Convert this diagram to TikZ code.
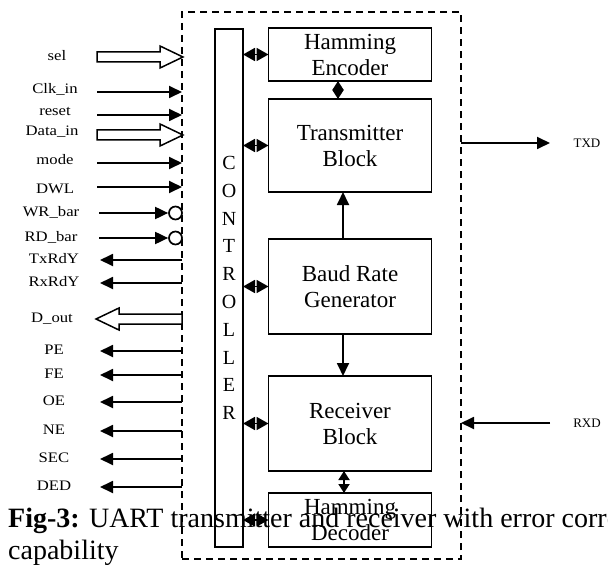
\documentclass[tikz,border=0pt]{standalone}
\usepackage{fontspec}
\setmainfont{Liberation Serif}
\newfontfamily\pinfont[FakeStretch=1.15]{Liberation Serif}
\usetikzlibrary{arrows.meta, positioning}

\begin{document}
\begin{tikzpicture}[
    x=1pt, y=-1pt,
    block/.style={rectangle, draw, line width=1.8pt, minimum width=163pt,
                  inner sep=0pt, outer sep=0pt, align=center,
                  font=\fontsize{23}{26}\selectfont},
    frame/.style={rectangle, draw, dash pattern=on 7pt off 5pt, line width=1.7pt,
                  minimum width=279pt, minimum height=547pt, inner sep=0pt, outer sep=0pt},
    pin/.style={font=\pinfont\fontsize{14.5}{16}\selectfont, text height=10pt,
                text depth=3pt, inner sep=0pt},
    sig/.style={-{Triangle[length=13pt, width=12pt]}, line width=1.8pt},
    link/.style={{Triangle[length=12pt, width=13pt]}-{Triangle[length=12pt, width=13pt]},
                 line width=1.8pt},
    shortlink/.style={{Triangle[length=9pt, width=11pt]}-{Triangle[length=9pt, width=11pt]},
                 line width=1.8pt},
    bubble/.style={circle, draw, line width=1.7pt, minimum size=13pt, inner sep=0pt, fill=white},
    fatarrow/.pic={\draw[line width=1.5pt, fill=white] (0,-5) -- (63,-5) -- (63,-11)
                   -- (86,0) -- (63,11) -- (63,5) -- (0,5) -- cycle;},
    caption/.style={anchor=base west, inner sep=0pt, font=\fontsize{28}{32}\selectfont},
]
\useasboundingbox (0,0) rectangle (608,567);
\clip (0,0) rectangle (608,567);

% frame and controller
\node[frame] (frame) at (321.5,285.5) {};
\node[rectangle, draw, line width=1.8pt, minimum width=28pt, minimum height=518pt,
      inner sep=0pt, outer sep=0pt, align=center, font=\fontsize{20}{27.8}\selectfont]
      (ctrl) at (229,288) {C\\O\\N\\T\\R\\O\\L\\L\\E\\R};

% block stack
\node[block, minimum height=53pt] (enc) at (350,54.5) {Hamming\\Encoder};
\node[block, minimum height=93pt, below=18pt of enc] (tx) {Transmitter\\Block};
\node[block, minimum height=95pt, below=47pt of tx] (baud) {Baud Rate\\Generator};
\node[block, minimum height=95pt, below=42pt of baud] (rx) {Receiver\\Block};
\node[block, minimum height=54pt, below=22pt of rx] (dec) {Hamming\\Decoder};

\foreach \b in {enc,tx,baud,rx,dec}
    \draw[link] (ctrl.east |- \b.west) -- (\b.west);

\draw[shortlink] ([xshift=-12pt]enc.south) -- ([xshift=-12pt]tx.north);
\draw[sig] ([xshift=-7pt]baud.north) -- ([xshift=-7pt]tx.south);
\draw[sig] ([xshift=-7pt]baud.south) -- ([xshift=-7pt]rx.north);
\draw[shortlink] ([xshift=-6pt]rx.south) -- ([xshift=-6pt]dec.north);

% serial lines
\coordinate (txd) at (550,143);
\coordinate (rxd) at (550,423);
\draw[sig] (txd -| frame.east) -- (txd);
\draw[sig] (rxd) -- (rxd -| frame.east);
\node[font=\fontsize{13}{15}\selectfont] (ltxd) at (587,143) {TXD};
\node[font=\fontsize{13}{15}\selectfont] (lrxd) at (587,423) {RXD};

% inputs
\node[pin] (lsel) at (57,57) {sel};
\pic at (97,57) {fatarrow};
\node[pin] (ldin) at (52,132) {Data\_in};
\pic at (97,135) {fatarrow};
\foreach \lbl/\y/\ly in {Clk\_in/92/90, reset/115/112, mode/163/161, DWL/187/190}{
    \node[pin] (l\y) at (55,\ly) {\lbl};
    \coordinate (s\y) at (97,\y);
    \draw[sig] (s\y) -- (s\y -| frame.west);
}
\foreach \lbl/\y in {WR\_bar/213, RD\_bar/238}{
    \node[pin] (l\y) at (51,\y) {\lbl};
    \node[bubble] (b\y) at (175.5,\y) {};
    \coordinate (s\y) at (99,\y);
    \draw[sig] (s\y) -- (b\y.west);
}

% outputs
\node[pin] (ldout) at (52,319) {D\_out};
\pic[rotate=180] at (182,319) {fatarrow};
\foreach \lbl/\y in {TxRdY/260, RxRdY/283, PE/351, FE/375, OE/402, NE/431, SEC/459, DED/487}{
    \node[pin] (l\y) at (54,\y) {\lbl};
    \coordinate (s\y) at (100,\y);
    \draw[sig] (s\y -| frame.west) -- (s\y);
}

% caption
\node[caption] (cap) at (8,527) {\textbf{Fig-3:} UART transmitter and receiver with error corre};
\node[caption] (cap2) at (8,559) {capability};
\end{tikzpicture}
\end{document}
